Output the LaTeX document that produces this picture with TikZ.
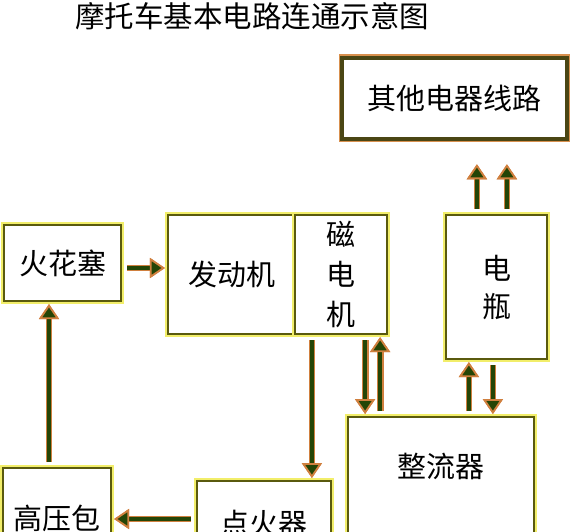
\documentclass[tikz,border=0pt]{standalone}
\usepackage{fontspec}
\newfontfamily\cjk{Noto Sans CJK SC}
\usetikzlibrary{arrows.meta}
\definecolor{boxline}{HTML}{5A5A0E}
\definecolor{boxglow}{HTML}{F2EE6A}
\definecolor{topline}{HTML}{4A4614}
\definecolor{topglow}{HTML}{D8904E}
\definecolor{wire}{HTML}{244506}
\definecolor{wireedge}{HTML}{D0803F}
\tikzset{
    block/.style={draw=boxline, line width=2.2pt, fill=white,
        preaction={draw=boxglow, line width=5.5pt},
        font=\cjk\fontsize{29}{40}\selectfont, align=center, inner sep=0pt},
    topbox/.style={draw=topline, line width=4.5pt, fill=white,
        preaction={draw=topglow, line width=7pt},
        font=\cjk\fontsize{29}{40}\selectfont, inner sep=0pt},
    cut/.style={block, anchor=north, text height=#1, text depth=140pt},
    flow/.style={draw=wire, line width=3.8pt, ->, shorten <=5pt, shorten >=#1,
        preaction={draw=wireedge, line width=6.8pt, ->, shorten <=5pt, shorten >=#1}},
    flow/.default=2pt
}
\begin{document}
\begin{tikzpicture}[x=1pt, y=-1pt,
        >={Triangle[length=15pt, width=20pt, fill=wire, color=wireedge, line width=1.8pt]}]
    \useasboundingbox (0,0) rectangle (570,532);
    \clip (0,0) rectangle (570,532);

    \node[font=\cjk\fontsize{29.5}{34}\selectfont] (title) at (252,16) {摩托车基本电路连通示意图};

    \node[topbox, minimum width=225pt, minimum height=81pt] (other) at (454.5,98.5) {其他电器线路};
    \node[block, minimum width=117pt, minimum height=76pt] (spark) at (62.5,263) {火花塞};
    \node[block, minimum width=127pt, minimum height=119pt] (engine) at (231.5,274.5) {发动机};
    \node[block, minimum width=92pt, minimum height=119pt] (magneto) at (341,274.5) {磁\\电\\机};
    \node[block, minimum width=101pt, minimum height=144pt,
        font=\cjk\fontsize{29}{38}\selectfont] (battery) at (496.5,287) {电\\瓶};
    \node[cut=60pt, minimum width=186pt] (rect) at (441,416) {整流器};
    \node[cut=61pt, minimum width=108pt] (hv) at (57,467) {高压包};
    \node[cut=53pt, minimum width=134pt] (ign) at (264,480) {点火器};

    \draw[flow] ([yshift=-5pt]spark.east) -- ([yshift=-5pt]spark.east -| engine.west);
    \draw[flow] ([xshift=-8pt]hv.north) -- ([xshift=-8pt]hv.north |- spark.south);
    \draw[flow] ([yshift=-39pt]ign.north west) -- ([yshift=-39pt]ign.north west -| hv.east);
    \draw[flow] ([xshift=18pt]magneto.south west) -- ([xshift=18pt]magneto.south west |- ign.north);

    % magneto <-> rectifier, rectifier <-> battery
    \draw[flow] ([xshift=-23pt]magneto.south east) -- ([xshift=-23pt]magneto.south east |- rect.north);
    \draw[flow] ([xshift=-8pt]magneto.south east |- rect.north) -- ([xshift=-8pt]magneto.south east);
    \draw[flow] ([xshift=24pt]battery.south west |- rect.north) -- ([xshift=24pt]battery.south west);
    \draw[flow] ([xshift=48pt]battery.south west) -- ([xshift=48pt]battery.south west |- rect.north);

    \foreach \dx in {32,62} {
        \draw[flow=23pt] ([xshift=\dx pt]battery.north west) -- ([xshift=\dx pt]battery.north west |- other.south);
    }
\end{tikzpicture}
\end{document}
